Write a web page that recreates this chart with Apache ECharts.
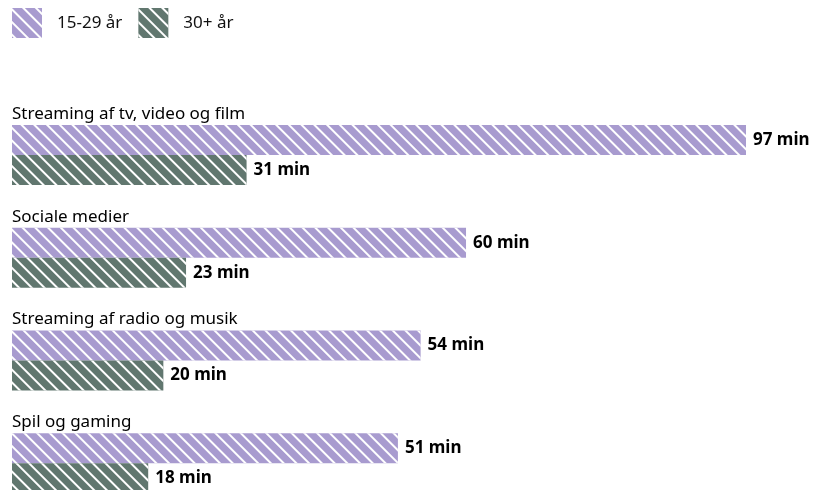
<!DOCTYPE html>
<html><head><meta charset="utf-8">
<script src="https://cdn.jsdelivr.net/npm/echarts@6/dist/echarts.min.js"></script>
<style>html,body{margin:0;padding:0;background:#fff}#c{width:814px;height:490px}</style>
</head><body><div id="c"></div>
<script>
const categories = ['Streaming af tv, video og film', 'Sociale medier', 'Streaming af radio og musik', 'Spil og gaming'];
const seriesNames = ['15-29 år', '30+ år'];
const young = [97, 60, 54, 51];
const older = [31, 23, 20, 18];

const FONT = '"Noto Sans", sans-serif';
const decal = {symbol: 'rect', rotation: Math.PI / 4, dashArrayX: [1, 0], dashArrayY: [2, 6.5], color: '#ffffff', symbolSize: 1};
function mk(name, data, color) {
  return {
    name, type: 'bar', data, barWidth: 30, barGap: '0%',
    itemStyle: {color, decal},
    label: {show: true, position: 'right', distance: 7, formatter: '{c} min', fontFamily: FONT, fontSize: 17, fontWeight: 'bold', color: '#000'}
  };
}
const chart = echarts.init(document.getElementById('c'));
chart.setOption({
  animation: false,
  aria: {enabled: true, decal: {show: true}},
  legend: {left: 12, top: 8, padding: 0, itemWidth: 30, itemHeight: 30, itemGap: 16, icon: 'rect',
    data: seriesNames,
    textStyle: {fontFamily: FONT, fontSize: 17, color: '#111', padding: [0, 0, 0, 10]}},
  grid: {left: 12, right: 45.3, top: 103.7, height: 411, containLabel: false, outerBoundsMode: 'none'},
  xAxis: {type: 'value', min: 0, max: 100, show: false},
  yAxis: {type: 'category', data: categories, inverse: true,
    axisLine: {show: false}, axisTick: {show: false}, splitLine: {show: false}, axisLabel: {show: false}},
  series: [mk(seriesNames[0], young, '#a89bcf'), mk(seriesNames[1], older, '#61776f'),
    {type: 'scatter', name: 'labels', symbolSize: 0, silent: true, z: 5,
      itemStyle: {opacity: 1},
      data: categories.map(c => [0, c]),
      label: {show: true, position: 'right', distance: 0, offset: [0, -41], formatter: p => p.data[1],
        fontFamily: FONT, fontSize: 17, color: '#000'}}]
});
</script></body></html>
